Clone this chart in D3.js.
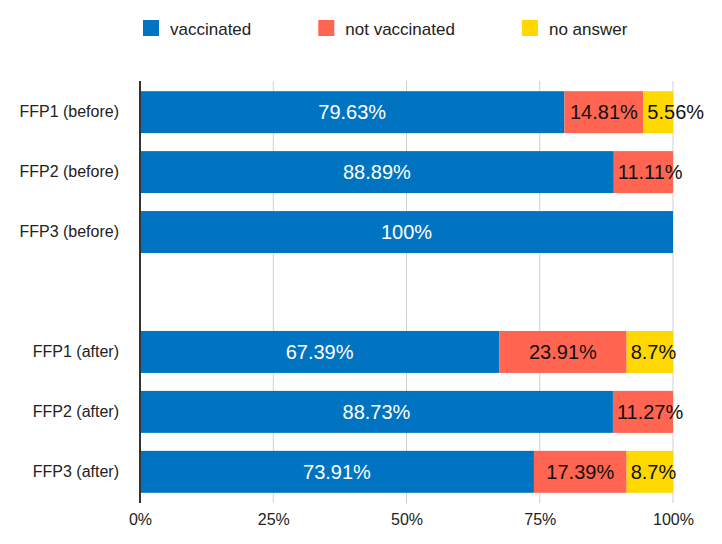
<!DOCTYPE html>
<html lang="en">
<head>
    <meta charset="UTF-8">
    <title>Vaccination by mask type</title>
    <script src="https://cdn.jsdelivr.net/npm/d3@7"></script>
    <style>
        body {
            margin: 0;
            background-color: #fff;
            font-family: "Liberation Sans", Arial, Helvetica, sans-serif;
        }
    </style>
</head>
<body>
    <div id="chart"></div>

    <script>
        // one empty slot separates the "before" and "after" groups
        const categories = ["FFP1 (before)", "FFP2 (before)", "FFP3 (before)", "gap", "FFP1 (after)", "FFP2 (after)", "FFP3 (after)"];
        const vaccinated = [79.63, 88.89, 100, 0, 67.39, 88.73, 73.91];
        const notVaccinated = [14.81, 11.11, 0, 0, 23.91, 11.27, 17.39];
        const noAnswer = [5.56, 0, 0, 0, 8.7, 0, 8.7];
        const seriesNames = ["vaccinated", "not vaccinated", "no answer"];
        const seriesColors = ["#0074c1", "#ff6550", "#ffd800"];
        const xTicks = [0, 25, 50, 75, 100];

        const width = 722, height = 544;
        const margin = { top: 81, right: 49, bottom: 41, left: 140 };

        const rows = categories.map((c, i) => ({
            category: c,
            "vaccinated": vaccinated[i],
            "not vaccinated": notVaccinated[i],
            "no answer": noAnswer[i]
        }));

        const svg = d3.select("#chart").append("svg")
            .attr("width", width)
            .attr("height", height);

        const x = d3.scaleLinear().domain([0, 100]).range([margin.left, width - margin.right]);
        const y = d3.scaleBand().domain(categories)
            .range([margin.top, height - margin.bottom])
            .paddingInner(0.3)
            .paddingOuter(0.17);
        const color = d3.scaleOrdinal().domain(seriesNames).range(seriesColors);

        // grid
        svg.append("g")
            .selectAll("line")
            .data(xTicks.slice(1))
            .join("line")
            .attr("x1", d => x(d))
            .attr("x2", d => x(d))
            .attr("y1", margin.top)
            .attr("y2", height - margin.bottom)
            .attr("stroke", "#d0d0d0")
            .attr("stroke-width", 1);

        // x axis labels
        svg.append("g")
            .attr("transform", `translate(0,${height - margin.bottom})`)
            .call(d3.axisBottom(x).tickValues(xTicks).tickFormat(d => d + "%").tickSize(0).tickPadding(11))
            .call(g => g.select(".domain").remove())
            .call(g => g.selectAll("text")
                .attr("fill", "#222")
                .style("font-size", "16px")
                .style("font-family", "'Liberation Sans', Arial, sans-serif"));

        // y axis labels
        svg.append("g")
            .attr("transform", `translate(${margin.left},0)`)
            .call(d3.axisLeft(y).tickSize(0).tickPadding(21).tickFormat(d => d === "gap" ? "" : d))
            .call(g => g.select(".domain").remove())
            .call(g => g.selectAll("text")
                .attr("fill", "#222")
                .style("font-size", "16px")
                .style("font-family", "'Liberation Sans', Arial, sans-serif"));

        const stacked = d3.stack().keys(seriesNames)(rows);

        const layers = svg.append("g")
            .selectAll("g")
            .data(stacked)
            .join("g")
            .attr("fill", d => color(d.key));

        layers.selectAll("rect")
            .data(d => d.filter(s => s[1] - s[0] > 0))
            .join("rect")
            .attr("x", d => x(d[0]))
            .attr("y", d => y(d.data.category))
            .attr("width", d => x(d[1]) - x(d[0]))
            .attr("height", y.bandwidth());

        // value labels: centred when they fit, else starting just inside the segment
        svg.append("g")
            .selectAll("g")
            .data(stacked)
            .join("g")
            .attr("fill", d => d.key === "vaccinated" ? "#fff" : "#111")
            .selectAll("text")
            .data(d => d.filter(s => s[1] - s[0] > 0))
            .join("text")
            .attr("y", d => y(d.data.category) + y.bandwidth() / 2)
            .attr("dominant-baseline", "central")
            .style("font-size", "20px")
            .text(d => `${+(d[1] - d[0]).toFixed(2)}%`)
            .each(function (d) {
                const w = this.getComputedTextLength();
                const segW = x(d[1]) - x(d[0]);
                if (w > segW - 6) {
                    d3.select(this).attr("x", x(d[0]) + 4).attr("text-anchor", "start");
                } else {
                    d3.select(this).attr("x", x((d[0] + d[1]) / 2)).attr("text-anchor", "middle");
                }
            });

        // zero axis line
        svg.append("line")
            .attr("x1", x(0))
            .attr("x2", x(0))
            .attr("y1", margin.top)
            .attr("y2", height - margin.bottom)
            .attr("stroke", "#333")
            .attr("stroke-width", 2);

        // legend
        const legend = svg.append("g").attr("transform", "translate(143,20)");
        let offset = 0;
        seriesNames.forEach(name => {
            const item = legend.append("g").attr("transform", `translate(${offset},0)`);
            item.append("rect")
                .attr("width", 16)
                .attr("height", 16)
                .attr("fill", color(name));
            const label = item.append("text")
                .attr("x", 27)
                .attr("y", 9)
                .attr("dominant-baseline", "central")
                .attr("fill", "#222")
                .style("font-size", "17px")
                .text(name);
            offset += 27 + label.node().getComputedTextLength() + 67;
        });
    </script>
</body>
</html>
